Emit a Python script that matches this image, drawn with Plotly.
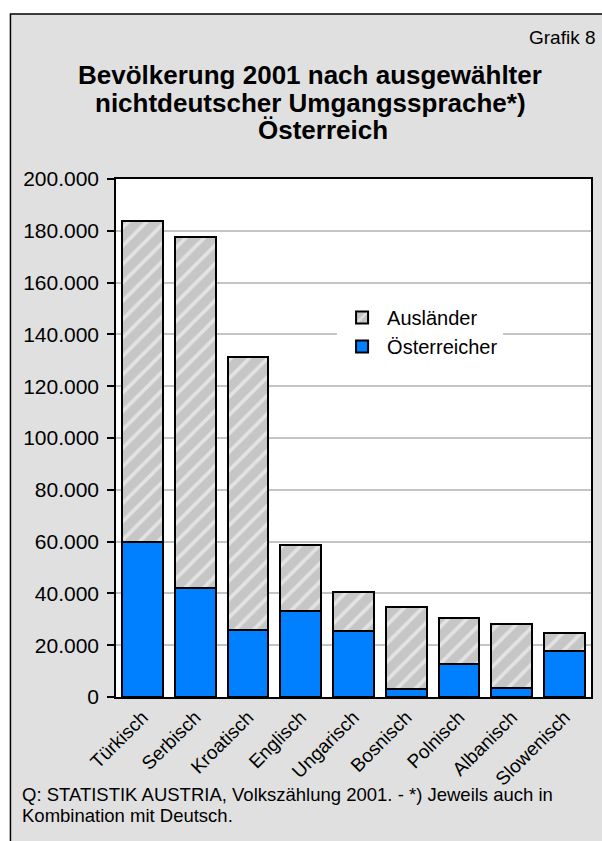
import plotly.graph_objects as go

sprachen = ["Türkisch", "Serbisch", "Kroatisch", "Englisch", "Ungarisch",
            "Bosnisch", "Polnisch", "Albanisch", "Slowenisch"]
gesamt = [183900, 177500, 131300, 58600, 40400, 34900, 30500, 28000, 24600]
oesterreicher = [59800, 41900, 25900, 33300, 25600, 3100, 12600, 3500, 17800]
auslaender = [g - o for g, o in zip(gesamt, oesterreicher)]

y_ticks = [0, 20000, 40000, 60000, 80000, 100000, 120000, 140000, 160000, 180000, 200000]
y_labels = ["0", "20.000", "40.000", "60.000", "80.000", "100.000", "120.000",
            "140.000", "160.000", "180.000", "200.000"]

FONT = "Liberation Sans, Arial, Helvetica, sans-serif"

fig = go.Figure()
fig.add_trace(go.Bar(
    x=sprachen, y=oesterreicher, name="Österreicher",
    marker=dict(color="#0080FF", line=dict(color="black", width=2)),
))
fig.add_trace(go.Bar(
    x=sprachen, y=auslaender, name="Ausländer",
    marker=dict(color="#c6c6c6", line=dict(color="black", width=2),
                pattern=dict(shape="/", bgcolor="#c6c6c6", fgcolor="white",
                             size=13, solidity=0.28)),
))

W, H = 602, 841
L, R, T, B = 116, 9, 179, 144
pw, ph = W - L - R, H - T - B

def px(x):
    return (x - L) / pw

def py(y):
    return (H - B - y) / ph

shapes = [
    dict(type="rect", xref="paper", yref="paper", x0=px(10), x1=px(610),
         y0=py(850), y1=py(14), fillcolor="#e0e0e0",
         line=dict(color="black", width=1.5), layer="below"),
    dict(type="rect", xref="paper", yref="paper", x0=0, x1=1, y0=0, y1=1,
         fillcolor="white", line=dict(width=0), layer="below"),
]

annotations = [
    dict(text="Grafik 8", x=px(600), y=py(37), xref="paper", yref="paper",
         xanchor="right", yanchor="middle", showarrow=False,
         font=dict(size=19, family=FONT, color="black")),
    dict(text="<b>Bevölkerung 2001 nach ausgewählter</b>", x=px(311), y=py(75),
         xref="paper", yref="paper", xanchor="center", yanchor="middle",
         showarrow=False, font=dict(size=26, family=FONT, color="black")),
    dict(text="<b>nichtdeutscher Umgangssprache*)</b>", x=px(311), y=py(103),
         xref="paper", yref="paper", xanchor="center", yanchor="middle",
         showarrow=False, font=dict(size=26, family=FONT, color="black")),
    dict(text="<b>Österreich</b>", x=px(324), y=py(130),
         xref="paper", yref="paper", xanchor="center", yanchor="middle",
         showarrow=False, font=dict(size=26, family=FONT, color="black")),
    dict(text="Q: STATISTIK AUSTRIA, Volkszählung 2001. - *) Jeweils auch in",
         x=px(20), y=py(794), xref="paper", yref="paper", xanchor="left",
         yanchor="middle", showarrow=False,
         font=dict(size=18.5, family=FONT, color="black")),
    dict(text="Kombination mit Deutsch.",
         x=px(20), y=py(815), xref="paper", yref="paper", xanchor="left",
         yanchor="middle", showarrow=False,
         font=dict(size=18.5, family=FONT, color="black")),
]

fig.update_layout(
    width=W, height=H,
    margin=dict(l=L, r=R, t=T, b=B, pad=0),
    barmode="stack", bargap=0.226,
    paper_bgcolor="white", plot_bgcolor="white",
    font=dict(family=FONT, size=17, color="black"),
    showlegend=True,
    legend=dict(x=px(338), y=py(298), xanchor="left", yanchor="top",
                bgcolor="white", traceorder="reversed",
                font=dict(size=20, family=FONT, color="black"),
                itemwidth=40, tracegroupgap=4),
    shapes=shapes,
    annotations=annotations,
)
fig.update_yaxes(
    range=[0, 200000], tickvals=y_ticks, ticktext=y_labels,
    showgrid=True, gridcolor="#c4c4c4", gridwidth=1.5,
    showline=True, linecolor="black", linewidth=1.5, mirror=True,
    ticks="outside", ticklen=7, tickcolor="black", tickwidth=1.5,
    ticklabelstandoff=4,
    tickfont=dict(size=21, family=FONT), zeroline=False,
)
fig.update_xaxes(
    tickangle=-45, showline=True, linecolor="black", linewidth=1.5, mirror=True,
    tickfont=dict(size=19, family=FONT), showgrid=False,
)

fig.write_html("out.html", post_script="document.body.style.margin='0';",
               config={"displayModeBar": False})
